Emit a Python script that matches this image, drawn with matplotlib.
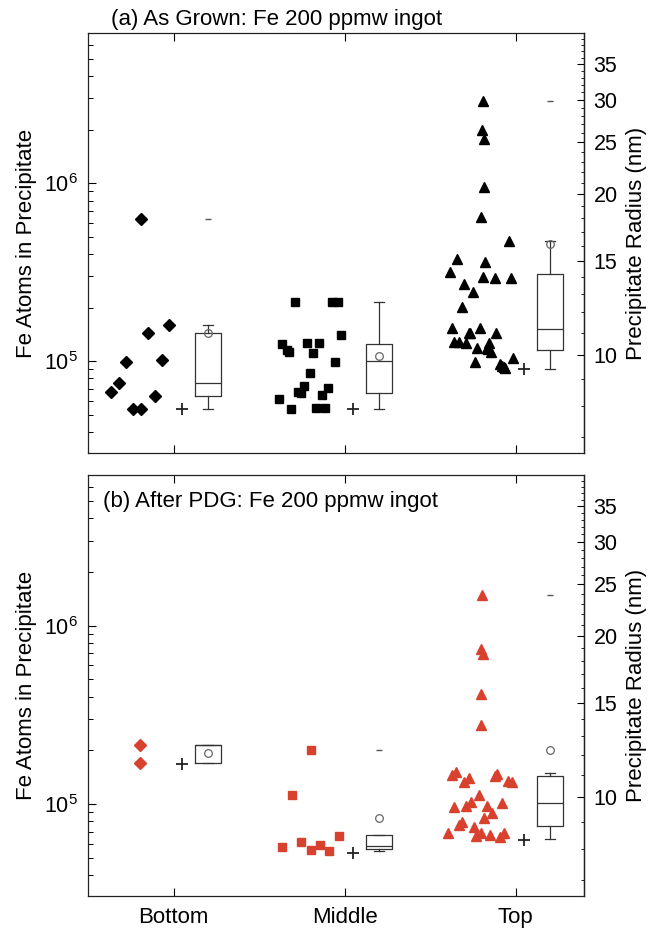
import numpy as np
import matplotlib
matplotlib.use("Agg")
import matplotlib.pyplot as plt
from matplotlib.ticker import FixedLocator, FormatStrFormatter, LogLocator, NullFormatter

plt.rcParams['font.family'] = ['Liberation Sans', 'DejaVu Sans']
plt.rcParams['mathtext.fontset'] = 'custom'
plt.rcParams['mathtext.rm'] = 'Liberation Sans'
plt.rcParams['mathtext.it'] = 'Liberation Sans'
plt.rcParams['mathtext.default'] = 'regular'

categories = ['Bottom', 'Middle', 'Top']
radius_ticks = [10, 15, 20, 25, 30, 35]
N_AT_10NM = 1.09e5  # Fe atoms in a 10 nm radius FeSi2 precipitate

# ---- (a) as grown: Fe atoms per precipitate, with jitter
a_bottom = [6.3e5, 6.7e4, 7.55e4, 9.9e4, 5.4e4, 5.4e4, 1.45e5, 6.4e4, 1.01e5, 1.59e5]
a_bottom_dx = [-0.188, -0.367, -0.321, -0.278, -0.237, -0.193, -0.152, -0.109, -0.068, -0.027]

a_middle = [6.14e4, 5.40e4, 1.25e5, 1.15e5, 1.12e5, 6.73e4, 6.59e4, 7.27e4, 8.64e4, 1.26e5,
            1.26e5, 1.11e5, 5.47e4, 5.47e4, 6.44e4, 7.08e4, 9.9e4, 1.40e5, 2.15e5, 2.15e5, 2.15e5]
a_middle_dx = [-0.384, -0.312, -0.364, -0.339, -0.325, -0.271, -0.255, -0.238, -0.203, -0.220,
               -0.149, -0.184, -0.168, -0.114, -0.131, -0.096, -0.057, -0.018, -0.289, -0.071, -0.038]

a_top = [2.92e6, 1.99e6, 1.77e6, 9.6e5, 6.47e5, 4.77e5, 3.76e5, 3.61e5, 3.16e5, 2.98e5,
         2.95e5, 2.92e5, 2.73e5, 2.44e5, 2.02e5, 1.53e5, 1.54e5, 1.45e5, 1.44e5, 1.45e5,
         1.29e5, 1.29e5, 1.26e5, 1.27e5, 1.19e5, 1.18e5, 1.17e5, 1.13e5, 9.9e4, 9.7e4,
         9.4e4, 9.3e4, 9.2e4, 1.04e5]
a_top_dx = [-0.19, -0.198, -0.183, -0.187, -0.202, -0.039, -0.34, -0.177, -0.385, -0.19,
            -0.122, -0.027, -0.30, -0.247, -0.315, -0.373, -0.206, -0.274, -0.266, -0.115,
            -0.36, -0.332, -0.292, -0.153, -0.223, -0.167, -0.159, -0.142, -0.239, -0.093,
            -0.08, -0.066, -0.06, -0.017]

# box summaries for (a): bottom, middle, top
a_whislo = [5.4e4, 5.4e4, 9.1e4]
a_q1 = [6.4e4, 6.6e4, 1.16e5]
a_med = [7.5e4, 1.0e5, 1.51e5]
a_q3 = [1.45e5, 1.25e5, 3.11e5]
a_whishi = [1.59e5, 2.16e5, 4.72e5]
a_mean = [1.45e5, 1.07e5, 4.58e5]
a_max = [6.3e5, None, 2.9e6]
a_min = [5.4e4, 5.4e4, 9.0e4]

# ---- (b) after PDG
b_bottom = [2.14e5, 1.70e5]
b_bottom_dx = [-0.194, -0.194]

b_middle = [5.77e4, 1.13e5, 6.15e4, 5.53e4, 5.88e4, 5.48e4, 6.65e4, 2.01e5]
b_middle_dx = [-0.363, -0.306, -0.254, -0.199, -0.145, -0.092, -0.035, -0.195]

b_top = [1.49e6, 7.4e5, 6.9e5, 4.13e5, 2.79e5, 1.45e5, 1.51e5, 1.33e5, 1.40e5, 1.43e5,
         1.47e5, 1.34e5, 1.33e5, 1.12e5, 9.6e4, 9.7e4, 1.03e5, 9.7e4, 8.9e4, 1.02e5,
         8.3e4, 7.9e4, 7.6e4, 7.4e4, 6.9e4, 6.6e4, 6.9e4, 6.7e4, 6.5e4, 6.9e4]
b_top_dx = [-0.195, -0.205, -0.19, -0.2, -0.2, -0.371, -0.346, -0.301, -0.273, -0.121,
            -0.109, -0.047, -0.021, -0.215, -0.363, -0.287, -0.258, -0.17, -0.139, -0.082,
            -0.185, -0.316, -0.33, -0.244, -0.394, -0.23, -0.2, -0.15, -0.092, -0.066]

b_whislo = [1.70e5, 5.46e4, 6.4e4]
b_q1 = [1.70e5, 5.58e4, 7.5e4]
b_med = [2.14e5, 5.85e4, 1.02e5]
b_q3 = [2.14e5, 6.68e4, 1.43e5]
b_whishi = [2.14e5, 6.68e4, 1.5e5]
b_mean = [1.93e5, 8.4e4, 2.0e5]
b_max = [None, 2.02e5, 1.49e6]
b_min = [1.67e5, 5.3e4, 6.3e4]


def n_to_r(n):
    return 10.0 * np.cbrt(np.asarray(n, dtype=float) / N_AT_10NM)


def r_to_n(r):
    return N_AT_10NM * (np.asarray(r, dtype=float) / 10.0) ** 3


def draw_panel(ax, groups, color, whislo, q1, med, q3, whishi, mean, vmax, vmin):
    markers = [('D', 6.3), ('s', 5.5), ('^', 7)]
    for i, (vals, dx) in enumerate(groups):
        x = i + 1 + np.array(dx)
        m, ms = markers[i]
        ax.plot(x, vals, m, ms=ms, color=color, mec=color, ls='none', zorder=3)

    pos = [i + 1.2 for i in range(3)]
    stats = []
    for k in range(3):
        stats.append(dict(whislo=whislo[k], q1=q1[k], med=med[k], q3=q3[k],
                          whishi=whishi[k], fliers=[]))
    lc = '#333333'
    ax.bxp(stats, positions=pos, widths=0.15, capwidths=0.06, showfliers=False,
           manage_ticks=False,
           boxprops=dict(color=lc, lw=0.9), medianprops=dict(color=lc, lw=0.9),
           whiskerprops=dict(color=lc, lw=0.9), capprops=dict(color=lc, lw=0.9))
    ax.plot(pos, mean, 'o', ms=5.5, mfc='none', mec='#666666', mew=0.9, ls='none', zorder=4)
    for k in range(3):
        if vmax[k] is not None:
            ax.plot(pos[k], vmax[k], '_', ms=5, color='#555555', mew=1.0)
        ax.plot(k + 1.05, vmin[k], '+', ms=8, color='#222222', mew=1.3)

    ax.set_yscale('log')
    ax.set_ylim(3.05e4, 7e6)
    ax.set_xlim(0.5, 3.4)
    ax.yaxis.set_major_locator(LogLocator(base=10))
    ax.yaxis.set_minor_locator(LogLocator(base=10, subs=np.arange(2, 10)))
    ax.yaxis.set_minor_formatter(NullFormatter())
    ax.set_xticks([1, 2, 3])
    ax.tick_params(axis='y', which='major', direction='in', length=6, width=0.8,
                   labelsize=15.5, pad=7, right=False)
    ax.tick_params(axis='y', which='minor', direction='in', length=3.5, width=0.7, right=False)
    ax.tick_params(axis='x', direction='in', length=5.5, width=0.8, top=True,
                   labelsize=16, pad=8)
    for s in ax.spines.values():
        s.set_linewidth(0.9)
        s.set_color('#222222')
    ax.set_ylabel('Fe Atoms in Precipitate', fontsize=16)
    ax.yaxis.set_label_coords(-0.103, 0.5)

    sec = ax.secondary_yaxis('right', functions=(n_to_r, r_to_n))
    sec.yaxis.set_major_locator(FixedLocator(radius_ticks))
    sec.yaxis.set_minor_locator(FixedLocator(list(range(7, 41))))
    sec.yaxis.set_major_formatter(FormatStrFormatter('%d'))
    sec.yaxis.set_minor_formatter(NullFormatter())
    sec.tick_params(which='major', direction='in', length=5, width=0.8, labelsize=15.5, pad=7)
    sec.tick_params(which='minor', direction='in', length=2.5, width=0.6)
    sec.spines['right'].set_linewidth(0.9)
    sec.set_ylabel('Precipitate Radius (nm)', fontsize=16)
    # place the label relative to the parent axes (secondary axes is very narrow)
    sec.yaxis.set_label_coords(1.085, 0.5, transform=ax.transAxes)
    return sec


fig = plt.figure(figsize=(6.49, 9.32), dpi=100)
ax_a = fig.add_axes([88 / 649, 1 - 453 / 932, 496 / 649, 420 / 932])
ax_b = fig.add_axes([88 / 649, 1 - 896 / 932, 496 / 649, 421 / 932])

draw_panel(ax_a, [(a_bottom, a_bottom_dx), (a_middle, a_middle_dx), (a_top, a_top_dx)],
           'black', a_whislo, a_q1, a_med, a_q3, a_whishi, a_mean, a_max, a_min)
draw_panel(ax_b, [(b_bottom, b_bottom_dx), (b_middle, b_middle_dx), (b_top, b_top_dx)],
           '#d9412f', b_whislo, b_q1, b_med, b_q3, b_whishi, b_mean, b_max, b_min)

ax_a.set_xticklabels([])
ax_b.set_xticklabels(categories)

ax_a.text(0.047, 1.018, '(a) As Grown: Fe 200 ppmw ingot', transform=ax_a.transAxes,
          fontsize=16, va='baseline', ha='left')
ax_b.text(0.03, 0.924, '(b) After PDG: Fe 200 ppmw ingot', transform=ax_b.transAxes,
          fontsize=16, va='baseline', ha='left')

fig.savefig('out.png', dpi=100)
